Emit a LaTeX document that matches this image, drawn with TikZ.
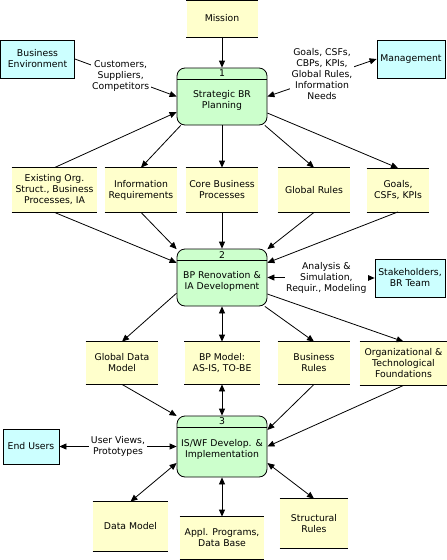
\documentclass[tikz,border=0pt]{standalone}
\usepackage{fontspec}
\setmainfont{DejaVu Sans}
\usetikzlibrary{arrows.meta}

\definecolor{storeyellow}{HTML}{FFFFCC}
\definecolor{procgreen}{HTML}{CCFFCC}
\definecolor{extcyan}{HTML}{CCFFFF}

\begin{document}
\begin{tikzpicture}[x=1pt, y=-1pt, > = {Triangle[length=7pt,width=6pt]},
	font=\fontsize{9.3}{11}\selectfont, line width=0.8pt,
	store/.style={fill=storeyellow, align=center, inner sep=0pt, minimum height=42pt},
	process/.style={draw, fill=procgreen, rounded corners=8pt, minimum width=90pt, minimum height=57pt, inner sep=0pt},
	ptext/.style={align=center, inner sep=0pt},
	entity/.style={draw, fill=extcyan, align=center, inner sep=0pt, minimum height=38pt},
	lbl/.style={fill=white, align=center, inner sep=1.5pt},
	]

	\useasboundingbox (0,0) rectangle (447,560);

	% data stores
	\node[store, minimum width=71pt, minimum height=36pt] (mission) at (222,18.5) {Mission};
	\node[store, minimum width=85pt, minimum height=44pt] (orgs) at (54.5,190) {Existing Org.\\Struct., Business\\Processes, IA};
	\node[store, minimum width=72pt, minimum height=44pt] (inforeq) at (141,190) {Information\\Requirements};
	\node[store, minimum width=72pt, minimum height=44pt] (corebp) at (222,190) {Core Business\\Processes};
	\node[store, minimum width=72pt, minimum height=44pt] (globrules) at (314,190) {Global Rules};
	\node[store, minimum width=62pt, minimum height=43pt] (goals) at (398,190) {Goals,\\CSFs, KPIs};
	\node[store, minimum width=72pt] (gdm) at (122,363) {Global Data\\Model};
	\node[store, minimum width=75pt] (bpmodel) at (222,363) {BP Model:\\AS-IS, TO-BE};
	\node[store, minimum width=72pt] (busrules) at (314,363) {Business\\Rules};
	\node[store, minimum width=87pt, minimum height=43pt] (orgfound) at (403.5,363.5) {Organizational \&\\Technological\\Foundations};
	\node[store, minimum width=75pt, minimum height=49pt] (datamodel) at (130.5,526.5) {Data Model};
	\node[store, minimum width=84pt] (applprog) at (222,538) {Appl. Programs,\\Data Base};
	\node[store, minimum width=68pt, minimum height=49pt] (structrules) at (314,523.5) {Structural\\Rules};

	\foreach \s in {mission,orgs,inforeq,corebp,globrules,goals,gdm,bpmodel,busrules,orgfound,datamodel,applprog,structrules}
		\draw (\s.north west) -- (\s.north east) (\s.south west) -- (\s.south east);

	% external entities
	\node[entity, minimum width=74pt] (busenv) at (37.5,59) {Business\\Environment};
	\node[entity, minimum width=68pt] (mgmt) at (411,59) {Management};
	\node[entity, minimum width=70pt] (stake) at (410,278) {Stakeholders,\\BR Team};
	\node[entity, minimum width=56pt, minimum height=35pt] (endusers) at (31,446.5) {End Users};

	% processes
	\node[process] (p1) at (222,96.5) {};
	\node[process] (p2) at (222,277.5) {};
	\node[process, minimum height=61pt] (p3) at (222,446.5) {};
	\foreach \p/\n in {p1/1,p2/2,p3/3}{
		\draw ([yshift=-12pt]\p.north west) -- ([yshift=-12pt]\p.north east);
		\node[ptext] (\p num) at ([yshift=-6pt]\p.north) {\n};
	}
	\node[ptext] (p1txt) at ([yshift=-4pt]p1.center) {Strategic BR\\Planning};
	\node[ptext] (p2txt) at ([yshift=-4pt]p2.center) {BP Renovation \&\\IA Development};
	\node[ptext] (p3txt) at ([yshift=-3pt]p3.center) {IS/WF Develop. \&\\Implementation};

	% flows of process 1
	\draw[->] (mission) -- (p1);
	\draw[->] (busenv.east) -- node[lbl, pos=0.45] (custlbl) {Customers,\\Suppliers,\\Competitors} (p1.west);
	\draw[<->] (p1.east) -- node[lbl, yshift=4pt] (needslbl) {Goals, CSFs,\\CBPs, KPIs,\\Global Rules,\\Information\\Needs} (mgmt.west);
	\draw[->] (orgs.north) -- (p1.199);
	\draw[->] (p1.215) -- (inforeq.north);
	\draw[->] (p1) -- (corebp);
	\draw[->] (p1.326) -- (globrules.north);
	\draw[->] (p1.340) -- (goals.north);

	% flows of process 2
	\draw[->] (orgs.south) -- (p2.162);
	\draw[->] (inforeq.south) -- (p2.148);
	\draw[->] (corebp) -- (p2);
	\draw[->] (globrules.south) -- (p2.32);
	\draw[->] (goals.south) -- (p2.18);
	\draw[<->] (p2.east) -- node[lbl, pos=0.55] (analbl) {Analysis \&\\Simulation,\\Requir., Modeling} (stake.west);
	\draw[->] (p2.199) -- (gdm.north);
	\draw[<->] (p2) -- (bpmodel);
	\draw[->] (p2.326) -- (busrules.north);
	\draw[->] (p2.340) -- (orgfound.north);

	% flows of process 3
	\draw[->] (gdm.south) -- (p3.146);
	\draw[<->] (bpmodel) -- (p3);
	\draw[->] (busrules.south) -- (p3.20);
	\draw[->] (orgfound.south) -- (p3.east);
	\draw[<->] (endusers) -- node[lbl] (viewslbl) {User Views,\\Prototypes} (p3);
	\draw[<->] (datamodel.north) -- (p3.200);
	\draw[<->] (applprog) -- (p3);
	\draw[<->] (p3.340) -- (structrules.north);

\end{tikzpicture}
\end{document}
